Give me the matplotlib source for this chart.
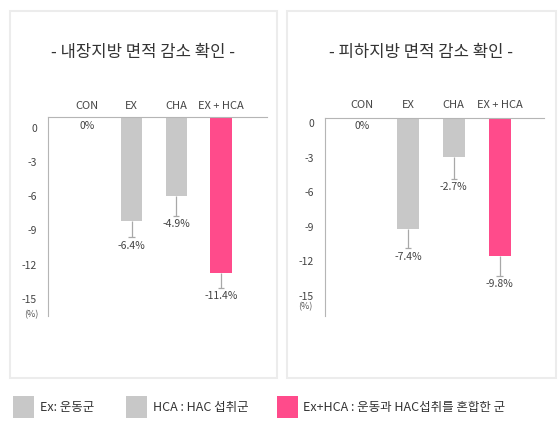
import matplotlib
matplotlib.use("Agg")
import matplotlib.pyplot as plt
from matplotlib.patches import Rectangle
from matplotlib.transforms import ScaledTranslation

plt.rcParams['font.family'] = ['Noto Sans CJK KR', 'DejaVu Sans']

categories = ["CON", "EX", "CHA", "EX + HCA"]
yticks = [0, -3, -6, -9, -12, -15]

titles = ["- 내장지방 면적 감소 확인 -", "- 피하지방 면적 감소 확인 -"]
visceral_bars = [0, -9.1, -6.9, -13.65]
visceral_err = [0, 1.4, 1.75, 1.3]
visceral_labels = ["0%", "-6.4%", "-4.9%", "-11.4%"]
subcut_bars = [0, -9.7, -3.4, -12.0]
subcut_err = [0, 1.65, 1.9, 1.75]
subcut_labels = ["0%", "-7.4%", "-2.7%", "-9.8%"]

legend_labels = ["Ex: 운동군", "HCA : HAC 섭취군", "Ex+HCA : 운동과 HAC섭취를 혼합한 군"]

GRAY = "#c8c8c8"
PINK = "#ff4b8b"
colors = [GRAY, GRAY, GRAY, PINK]
legend_colors = [GRAY, GRAY, PINK]

W, H = 559, 425
fig = plt.figure(figsize=(W / 100, H / 100), dpi=100)


def fx(x):
    return x / W


def fy(y):
    return 1 - y / H


# panel frames
for (x0, x1) in [(10, 277), (287, 556)]:
    fig.patches.append(Rectangle((fx(x0), fy(378)), fx(x1) - fx(x0), fy(11) - fy(378),
                                 transform=fig.transFigure, fill=False,
                                 edgecolor="#ececec", linewidth=1.5))

panels = [
    dict(title=titles[0], vals=visceral_bars, err=visceral_err, labels=visceral_labels,
         ax=(48, 267, 117.3, 316), xlim=(-0.87, 4.03), ylim=(-17.4, 0),
         tick_off=10.4, title_x=143, pct=(31, 315), cat_off=11),
    dict(title=titles[1], vals=subcut_bars, err=subcut_err, labels=subcut_labels,
         ax=(325, 544, 117.7, 315.7), xlim=(-0.81, 3.97), ylim=(-17.2, 0),
         tick_off=5.6, title_x=421, pct=(305, 307), cat_off=13),
]

for p in panels:
    x0, x1, y0, y1 = p["ax"]
    ax = fig.add_axes([fx(x0), fy(y1), fx(x1) - fx(x0), fy(y0) - fy(y1)])
    xs = list(range(len(categories)))
    ax.bar(xs, p["vals"], width=0.48, color=colors, zorder=2)
    lower = [v - e for v, e in zip(p["vals"], p["err"])]
    for i in xs:
        if p["err"][i] > 0:
            ax.vlines(i, lower[i], p["vals"][i], colors="#a8a8a8", linewidth=0.9, zorder=1)
            ax.hlines(lower[i], i - 0.07, i + 0.07, colors="#a8a8a8", linewidth=0.9, zorder=1)
        ax.annotate(p["labels"][i], (i, lower[i]), xytext=(0, -6), textcoords="offset points",
                    ha="center", va="center", fontsize=7.5, color="#444444")
        ax.annotate(categories[i], (i, 0), xytext=(0, p["cat_off"] * 0.72),
                    textcoords="offset points", ha="center", va="center",
                    fontsize=8, color="#444444", annotation_clip=False)
    ax.set_xlim(*p["xlim"])
    ax.set_ylim(*p["ylim"])
    ax.set_xticks([])
    ax.set_yticks(yticks)
    ax.set_yticklabels([str(t) for t in yticks], fontsize=7.5, color="#444444")
    ax.tick_params(axis="y", length=0, pad=8)
    off = ScaledTranslation(0, -p["tick_off"] / 100, fig.dpi_scale_trans)
    for lab in ax.get_yticklabels():
        lab.set_transform(lab.get_transform() + off)
    for s in ["bottom", "right"]:
        ax.spines[s].set_visible(False)
    for s in ["left", "top"]:
        ax.spines[s].set_color("#b5b5b5")
        ax.spines[s].set_linewidth(0.8)
    ax.patch.set_alpha(0)
    fig.text(fx(p["title_x"]), fy(52), p["title"], ha="center", va="center",
             fontsize=12, color="#333333")
    fig.text(fx(p["pct"][0]), fy(p["pct"][1]), "(%)", ha="center", va="center",
             fontsize=6.5, color="#555555")

# legend
sq_x = [13, 126, 277]
tx_x = [40, 153, 303]
for sx, tx, lab, c in zip(sq_x, tx_x, legend_labels, legend_colors):
    fig.patches.append(Rectangle((fx(sx), fy(418)), fx(21), fy(396) - fy(418),
                                 transform=fig.transFigure, facecolor=c, edgecolor="none"))
    fig.text(fx(tx), fy(407), lab, ha="left", va="center", fontsize=9, color="#333333")

fig.savefig("out.png", dpi=100)
